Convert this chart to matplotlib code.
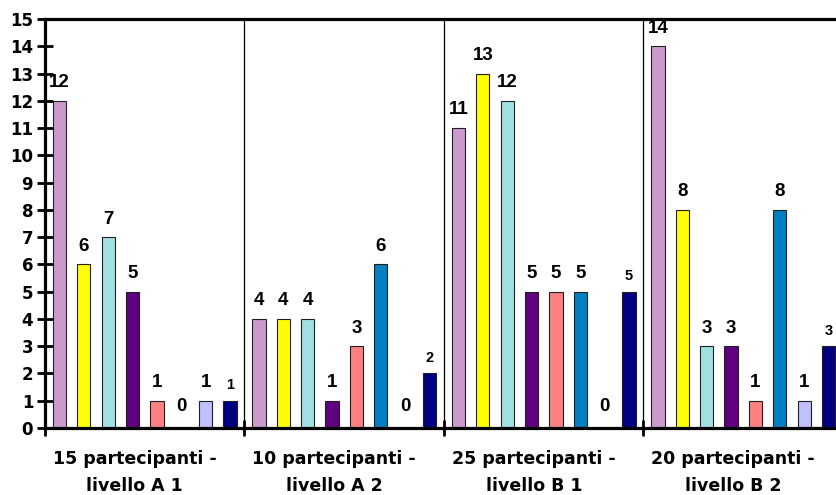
import numpy as np
import matplotlib
matplotlib.use("Agg")
import matplotlib.pyplot as plt

plt.rcParams['font.family'] = ['Liberation Sans', 'DejaVu Sans']
plt.rcParams['font.weight'] = 'bold'

# --- dati ---
gruppi = ["15 partecipanti -\nlivello A 1",
          "10 partecipanti -\nlivello A 2",
          "25 partecipanti -\nlivello B 1",
          "20 partecipanti -\nlivello B 2"]

serie_1 = [12, 4, 11, 14]
serie_2 = [6, 4, 13, 8]
serie_3 = [7, 4, 12, 3]
serie_4 = [5, 1, 5, 3]
serie_5 = [1, 3, 5, 1]
serie_6 = [0, 6, 5, 8]
serie_7 = [1, 0, 0, 1]
serie_8 = [1, 2, 5, 3]

serie = [serie_1, serie_2, serie_3, serie_4, serie_5, serie_6, serie_7, serie_8]
colori = ['#CC99CC', '#FFFF00', '#A0E0E0', '#600080',
          '#FF8080', '#0080C0', '#C0C0FF', '#000080']

# --- figura ---
W, H = 837, 495
fig = plt.figure(figsize=(W / 100, H / 100), dpi=100)
ax = fig.add_axes([45 / W, (H - 428) / H, (843 - 45) / W, (428 - 19) / H])

passo = 0.122      # distanza tra le barre in un gruppo
larghezza = 0.066  # larghezza barra
x_gruppi = np.arange(len(gruppi))

for j, (valori, col) in enumerate(zip(serie, colori)):
    xs = x_gruppi + 0.5 + (j - 3.5) * passo
    ax.bar(xs, valori, width=larghezza, color=col, edgecolor='#202020',
           linewidth=0.8, zorder=3)
    # etichette dei valori (l'ultima serie ha il carattere più piccolo)
    dim = 10.5 if j == 7 else 13.5
    for x, v in zip(xs, valori):
        off = 8.3 if j == 7 else 9.8
        if v == 0:
            off = 12
        ax.annotate(str(v), (x, v), xytext=(0, off), textcoords='offset points',
                    ha='center', va='baseline', fontsize=dim,
                    fontweight='bold', zorder=2, annotation_clip=False)

# linee verticali tra i gruppi
for b in range(1, len(gruppi)):
    ax.axvline(b, color='black', linewidth=0.9, zorder=1)

ax.set_xlim(0, 4)
ax.set_ylim(0, 15)
ax.set_yticks(range(0, 16))
ax.set_yticklabels([str(v) for v in range(0, 16)], family='DejaVu Sans',
                   fontsize=12, fontweight='bold')
ax.tick_params(axis='y', direction='inout', length=11, width=2, pad=3)

# tacche sui confini dei gruppi, etichette al centro
ax.set_xticks(range(0, 5))
ax.set_xticklabels([])
ax.tick_params(axis='x', which='major', direction='inout', length=11, width=2)
ax.set_xticks(x_gruppi + 0.45, minor=True)
ax.set_xticklabels(gruppi, minor=True, family='DejaVu Sans', fontsize=12.5,
                   fontweight='bold', linespacing=1.6)
ax.tick_params(axis='x', which='minor', length=0, pad=16)

for lato in ['left', 'bottom', 'top', 'right']:
    ax.spines[lato].set_linewidth(2.3)
    ax.spines[lato].set_zorder(4)

fig.savefig('out.png', dpi=100)
